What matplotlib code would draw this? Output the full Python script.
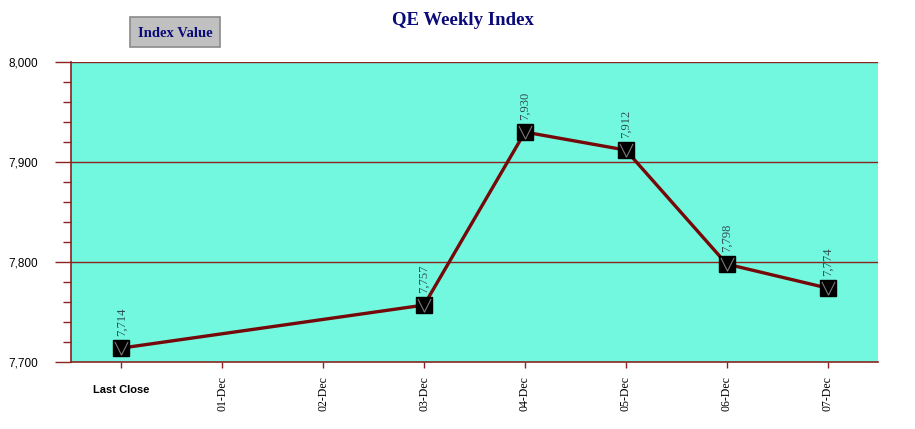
import numpy as np
import matplotlib.pyplot as plt
from matplotlib.path import Path
from matplotlib.patches import Rectangle
from matplotlib.ticker import MultipleLocator, FuncFormatter

categories = ['Last Close', '01-Dec', '02-Dec', '03-Dec', '04-Dec', '05-Dec', '06-Dec', '07-Dec']
values = [7714, None, None, 7757, 7930, 7912, 7798, 7774]

grid_red = '#8b2323'
line_red = '#750808'
navy = '#0a0a78'

fig = plt.figure(figsize=(9.15, 4.29), dpi=100)
ax = fig.add_axes([0.0776, 0.156, 0.882, 0.6993])
ax.set_facecolor('#72f8de')

xs = [i for i, v in enumerate(values) if v is not None]
ys = [v for v in values if v is not None]

ax.plot(xs, ys, color=line_red, linewidth=2.4, zorder=3)
ax.plot(xs, ys, linestyle='none', marker='s', markersize=11.5,
        markerfacecolor='black', markeredgecolor='black', zorder=4)
vmark = Path([(-0.6, 0.6), (0, -0.6), (0.6, 0.6)],
             [Path.MOVETO, Path.LINETO, Path.LINETO])
ax.plot(xs, ys, linestyle='none', marker=vmark, markersize=9.5,
        markerfacecolor='none', markeredgecolor='#7a7a7a',
        markeredgewidth=0.8, zorder=5)

for x, y in zip(xs, ys):
    ax.annotate(f'{y:,}', (x, y), xytext=(0, 9), textcoords='offset points',
                rotation=90, ha='center', va='bottom', fontsize=9,
                family='Liberation Serif', color='#2f4f4f', zorder=6)

ax.set_xlim(-0.5, 7.5)
ax.set_ylim(7700, 8000)

ax.yaxis.set_major_locator(MultipleLocator(100))
ax.yaxis.set_minor_locator(MultipleLocator(20))
ax.yaxis.set_major_formatter(FuncFormatter(lambda v, p: f'{int(v):,}'))
for y in [7800, 7900, 8000]:
    ax.axhline(y, color=grid_red, linewidth=1.0, zorder=2)

ax.set_xticks(range(len(categories)))
ax.set_xticklabels(categories)
for i, lab in enumerate(ax.get_xticklabels()):
    if i == 0:
        lab.set_fontweight('bold')
        lab.set_family('Liberation Sans')
        lab.set_fontsize(8)
        lab.set_y(-0.03)
    else:
        lab.set_rotation(90)
        lab.set_family('Liberation Serif')
        lab.set_fontsize(8.5)

for lab in ax.get_yticklabels():
    lab.set_family('Liberation Sans')
    lab.set_fontsize(8.5)

ax.tick_params(axis='y', which='major', length=11.5, width=1, color=grid_red, pad=12)
ax.tick_params(axis='y', which='minor', length=6, width=1, color=grid_red)
ax.tick_params(axis='x', length=4, width=1, color=grid_red, pad=6)

ax.spines['right'].set_visible(False)
ax.spines['top'].set_visible(False)
for s in ['left', 'bottom']:
    ax.spines[s].set_color(grid_red)
    ax.spines[s].set_linewidth(1.2)

fig.text(0.506, 0.953, 'QE Weekly Index', ha='center', va='center',
         fontsize=13.5, fontweight='bold', family='Liberation Serif', color=navy)

# "Index Value" button
bx, by, bw, bh = 130 / 915, 1 - 47 / 429, 90 / 915, 30 / 429
fig.patches.append(Rectangle((bx, by), bw, bh, transform=fig.transFigure,
                             facecolor='#c0c0c0', edgecolor='#8a8a8a',
                             linewidth=1.2, zorder=1))
fig.text(bx + bw / 2, by + bh / 2 - 0.004, 'Index Value', ha='center', va='center',
         fontsize=10.5, fontweight='bold', family='Liberation Serif', color=navy)

fig.savefig('out.png', dpi=100)
